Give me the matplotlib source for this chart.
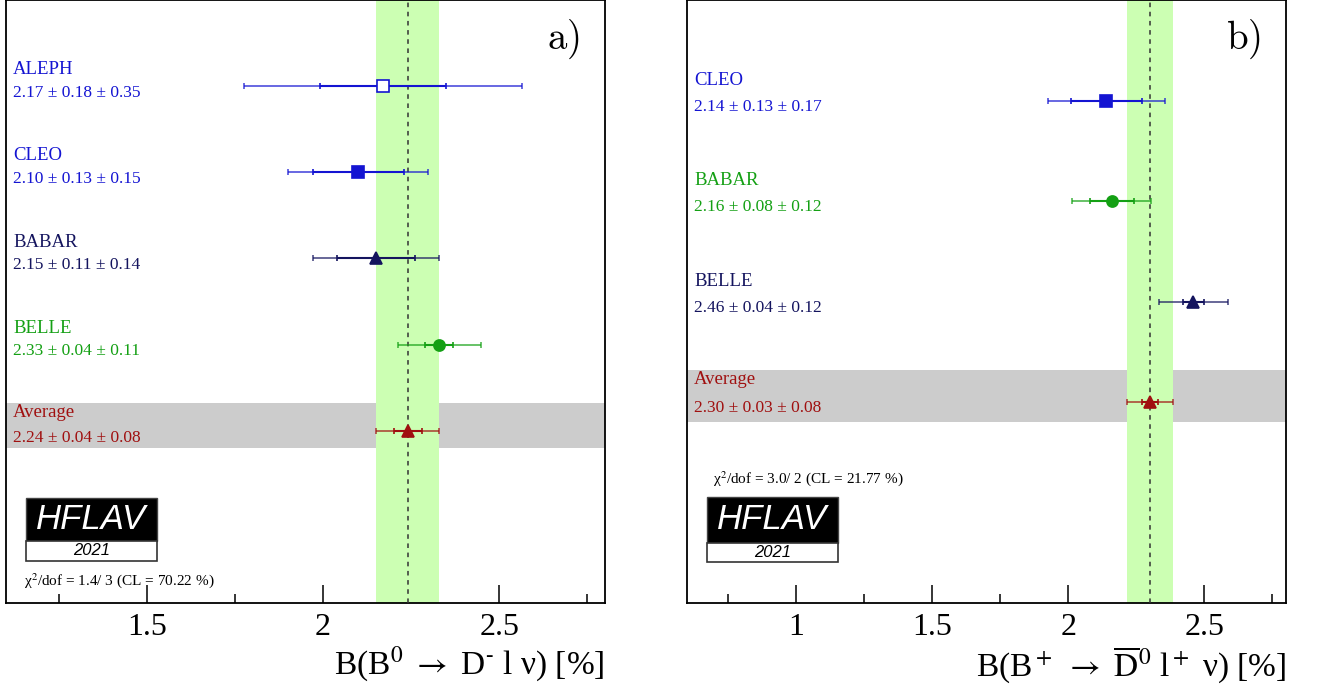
import numpy as np
import matplotlib
matplotlib.use('Agg')
import matplotlib.pyplot as plt
from matplotlib.patches import Rectangle
from matplotlib.ticker import MultipleLocator, FormatStrFormatter

plt.rcParams['font.family'] = ['Liberation Serif', 'DejaVu Serif']
plt.rcParams['mathtext.fontset'] = 'stix'

BLUE = '#1414d2'
NAVY = '#14145e'
GREEN = '#14a014'
RED = '#a01010'

# panel a): B0 -> D- l nu
a_names = ['ALEPH', 'CLEO', 'BABAR', 'BELLE']
a_values = [2.17, 2.10, 2.15, 2.33]
a_stat = [0.18, 0.13, 0.11, 0.04]
a_syst = [0.35, 0.15, 0.14, 0.11]
a_colors = [BLUE, BLUE, NAVY, GREEN]
a_markers = ['s', 's', '^', 'o']
a_open = [True, False, False, False]
a_avg = [2.24, 0.04, 0.08]
a_chi2 = 'χ$^2$/dof = 1.4/ 3 (CL = 70.22 %)'

# panel b): B+ -> D0bar l+ nu
b_names = ['CLEO', 'BABAR', 'BELLE']
b_values = [2.14, 2.16, 2.46]
b_stat = [0.13, 0.08, 0.04]
b_syst = [0.17, 0.12, 0.12]
b_colors = [BLUE, GREEN, NAVY]
b_markers = ['s', 'o', '^']
b_open = [False, False, False]
b_avg = [2.30, 0.03, 0.08]
b_chi2 = 'χ$^2$/dof = 3.0/ 2 (CL = 21.77 %)'


def draw_point(ax, x, y, stat, syst, color, marker, hollow):
    total = np.hypot(stat, syst)
    ax.errorbar(x, y, xerr=total, fmt='none', ecolor=color, alpha=0.75,
                elinewidth=1.2, capsize=2.5, capthick=1.2, zorder=4)
    ax.errorbar(x, y, xerr=stat, fmt='none', ecolor=color,
                elinewidth=1.5, capsize=2.5, capthick=1.2, zorder=5)
    face = 'white' if hollow else color
    ax.plot(x, y, marker=marker, ms=8.5 if marker != 'o' else 8, mfc=face,
            mec=color, mew=1.2, ls='none', zorder=6)


def draw_panel(ax, names, values, stat, syst, colors, markers, hollow, avg,
               xlim, ntop, name_dy, val_dy, chi2, chi2_xy, logo_y, label, xlabel):
    ax.set_xlim(*xlim)
    ax.set_ylim(0, ntop + 1)
    rows = np.arange(ntop, 2, -1)
    tr = ax.get_yaxis_transform()

    avg_val, avg_stat, avg_syst = avg
    avg_err = np.hypot(avg_stat, avg_syst)
    ax.axhspan(1.80, 2.32, color='#cccccc', lw=0, zorder=1)
    ax.axvspan(avg_val - avg_err, avg_val + avg_err, color='#ccffb3', lw=0, zorder=2)
    ax.axvline(avg_val, color='#333333', ls=(0, (3, 3)), lw=1.1, zorder=3)

    for i, y in enumerate(rows):
        draw_point(ax, values[i], y, stat[i], syst[i], colors[i], markers[i], hollow[i])
        ax.text(0.012, y + name_dy, names[i], color=colors[i], fontsize=13.5,
                va='center', ha='left', transform=tr)
        ax.text(0.012, y + val_dy, f'{values[i]:.2f} ± {stat[i]:.2f} ± {syst[i]:.2f}',
                color=colors[i], fontsize=12.5, va='center', ha='left', transform=tr)

    draw_point(ax, avg_val, 2, avg_stat, avg_syst, RED, '^', False)
    ax.text(0.012, 2 + name_dy + 0.02, 'Average', color=RED, fontsize=13.5,
            va='center', ha='left', transform=tr)
    ax.text(0.012, 2 + val_dy, f'{avg_val:.2f} ± {avg_stat:.2f} ± {avg_syst:.2f}',
            color=RED, fontsize=12.5, va='center', ha='left', transform=tr)

    ax.text(chi2_xy[0], chi2_xy[1], chi2, fontsize=11, va='center', ha='left',
            transform=ax.transAxes)

    # HFLAV logo
    y0, y1, y2 = logo_y
    ax.add_patch(Rectangle((0.0334, y1), 0.218, y2 - y1, transform=ax.transAxes,
                           facecolor='black', edgecolor='#444444', lw=1, zorder=7))
    ax.add_patch(Rectangle((0.0334, y0), 0.218, y1 - y0, transform=ax.transAxes,
                           facecolor='white', edgecolor='#333333', lw=1.2, zorder=7))
    ax.text(0.0334 + 0.109, (y1 + y2) / 2, 'HFLAV', color='white', fontsize=25,
            family='Liberation Sans', style='italic', ha='center', va='center',
            transform=ax.transAxes, zorder=8)
    ax.text(0.0334 + 0.109, (y0 + y1) / 2, '2021', color='black', fontsize=12,
            family='Liberation Sans', style='italic', ha='center', va='center',
            transform=ax.transAxes, zorder=8)

    ax.text(0.958, 0.935, r'$\mathrm{' + label + ')}$', math_fontfamily='cm',
            fontsize=28, ha='right', va='center', transform=ax.transAxes)

    ax.xaxis.set_major_locator(MultipleLocator(0.5))
    ax.xaxis.set_minor_locator(MultipleLocator(0.25))
    ax.xaxis.set_major_formatter(FormatStrFormatter('%g'))
    ax.tick_params(axis='x', which='major', direction='in', length=13, width=1.1,
                   labelsize=23, pad=7)
    ax.tick_params(axis='x', which='minor', direction='in', length=6.5, width=1.1)
    ax.set_yticks([])
    for s in ax.spines.values():
        s.set_linewidth(1.3)
    ax.set_xlabel(xlabel, fontsize=24, loc='right', labelpad=2)


fig = plt.figure(figsize=(13.17, 6.93), dpi=100)
ax_a = fig.add_axes([6 / 1317, 90 / 693, 599 / 1317, 603 / 693])
ax_b = fig.add_axes([687 / 1317, 90 / 693, 599 / 1317, 603 / 693])

draw_panel(ax_a, a_names, a_values, a_stat, a_syst, a_colors, a_markers, a_open, a_avg,
           (1.1, 2.8), 6, 0.19, -0.08, a_chi2, (0.03, 0.038),
           (0.0697, 0.1028, 0.174), 'a',
           r'B(B$^0$ $\rightarrow$ D$^{\text{-}}$ l ν) [%]')
draw_panel(ax_b, b_names, b_values, b_stat, b_syst, b_colors, b_markers, b_open, b_avg,
           (0.6, 2.8), 5, 0.20, -0.06, b_chi2, (0.043, 0.207),
           (0.068, 0.0995, 0.1758), 'b',
           r'B(B$^+$ $\rightarrow$ $\overline{\mathrm{D}}^{0}$ l$^+$ ν) [%]')

fig.savefig('out.png', dpi=100)
